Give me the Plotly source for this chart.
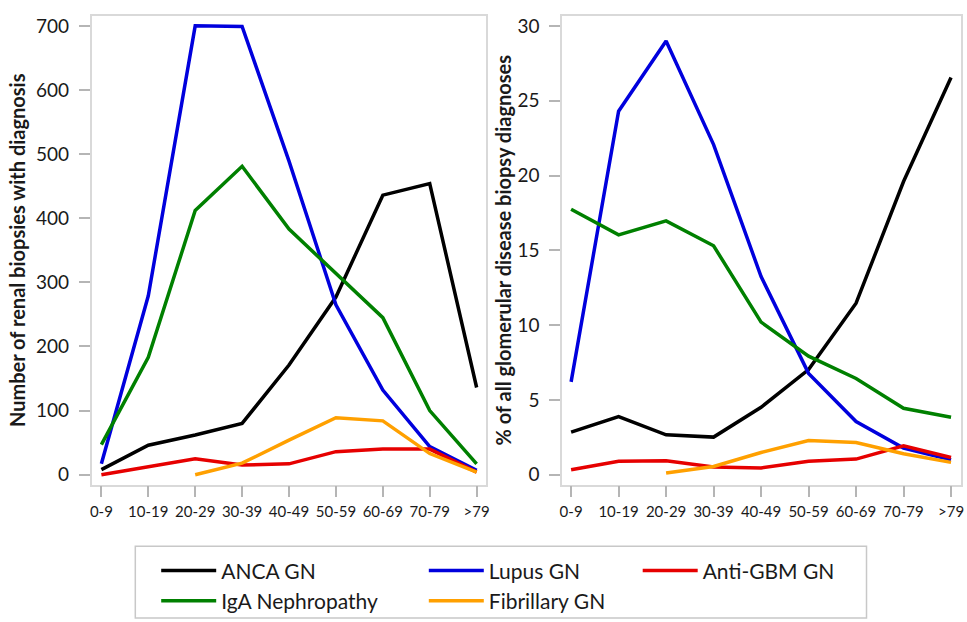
import plotly.graph_objects as go

age_groups = ["0-9", "10-19", "20-29", "30-39", "40-49", "50-59", "60-69", "70-79", ">79"]

# Left panel: number of renal biopsies with diagnosis
anca_n = [8, 46, 62, 80, 171, 277, 436, 454, 136]
lupus_n = [17, 279, 700, 699, 489, 265, 132, 44, 7]
iga_n = [47, 183, 412, 481, 383, 314, 245, 100, 17]
fibrillary_n = [None, None, 0, 18, 54, 89, 84, 33, 4]
antigbm_n = [0, 13, 25, 15, 17, 36, 40, 40, 4]

# Right panel: % of all glomerular disease biopsy diagnoses
anca_pct = [2.84, 3.88, 2.66, 2.51, 4.5, 7.03, 11.46, 19.6, 26.55]
lupus_pct = [6.2, 24.3, 29.0, 22.07, 13.24, 6.77, 3.55, 1.78, 1.0]
iga_pct = [17.74, 16.03, 16.97, 15.3, 10.2, 7.92, 6.43, 4.44, 3.84]
fibrillary_pct = [None, None, 0.11, 0.55, 1.48, 2.28, 2.15, 1.4, 0.82]
antigbm_pct = [0.33, 0.89, 0.93, 0.51, 0.45, 0.89, 1.04, 1.93, 1.15]

series_names = ["ANCA GN", "Lupus GN", "Anti-GBM GN", "IgA Nephropathy", "Fibrillary GN"]
series_colors = ["#000000", "#0000dd", "#e60000", "#008000", "#ffa000"]
left_values = [anca_n, lupus_n, antigbm_n, iga_n, fibrillary_n]
right_values = [anca_pct, lupus_pct, antigbm_pct, iga_pct, fibrillary_pct]
legend_groups = ["legend", "legend2", "legend3", "legend", "legend2"]

W, H = 967, 622
FONT = "Lato"

fig = go.Figure()
for name, color, lv, rv, lg in zip(series_names, series_colors, left_values, right_values, legend_groups):
    fig.add_trace(go.Scatter(x=age_groups, y=lv, mode="lines", name=name,
                             line=dict(color=color, width=3.5), xaxis="x", yaxis="y",
                             legend=lg, legendgroup=name, showlegend=True))
    fig.add_trace(go.Scatter(x=age_groups, y=rv, mode="lines", name=name,
                             line=dict(color=color, width=3.5), xaxis="x2", yaxis="y2",
                             legend=lg, legendgroup=name, showlegend=False))

def px_x(p):
    return p / W

def px_y(p):
    return 1 - p / H

frame = dict(showline=True, mirror=True, linecolor="#d9d9d9", linewidth=1.5,
             ticks="outside", ticklen=11, tickcolor="#b5b5b5", tickwidth=1.5,
             showgrid=False, zeroline=False)

fig.update_layout(
    width=W, height=H,
    margin=dict(l=0, r=0, t=0, b=0),
    paper_bgcolor="white", plot_bgcolor="white",
    font=dict(family=FONT, color="#1a1a1a"),
    xaxis=dict(domain=[px_x(90), px_x(487)], type="category", range=[-0.21, 8.21],
               tickfont=dict(size=15), ticklabelstandoff=2, anchor="y", **frame),
    yaxis=dict(domain=[px_y(485), px_y(14)], range=[-15.5, 715.5], tickvals=[0, 100, 200, 300, 400, 500, 600, 700],
               tickfont=dict(size=19), ticklabelstandoff=6, anchor="x",
               title=dict(text="<b>Number of renal biopsies with diagnosis</b>", font=dict(size=20), standoff=5),
               **frame),
    xaxis2=dict(domain=[px_x(563), px_x(964)], type="category", range=[-0.19, 8.21],
                tickfont=dict(size=15), ticklabelstandoff=2, anchor="y2", **frame),
    yaxis2=dict(domain=[px_y(485), px_y(14)], range=[-0.67, 30.67], tickvals=[0, 5, 10, 15, 20, 25, 30],
                tickfont=dict(size=19), ticklabelstandoff=6, anchor="x2",
                title=dict(text="<b>% of all glomerular disease biopsy diagnoses</b>", font=dict(size=20), standoff=0),
                **frame),
    showlegend=True,
)

leg_common = dict(orientation="v", xanchor="left", yanchor="top", bgcolor="rgba(0,0,0,0)",
                  font=dict(size=21, family=FONT, color="#1a1a1a"), traceorder="normal",
                  itemwidth=55, tracegroupgap=0, borderwidth=0)
fig.update_layout(
    legend=dict(x=px_x(155), y=px_y(551), **leg_common),
    legend2=dict(x=px_x(424), y=px_y(551), **leg_common),
    legend3=dict(x=px_x(639), y=px_y(551), **leg_common),
)

fig.add_shape(type="rect", xref="paper", yref="paper",
              x0=px_x(134), x1=px_x(869), y0=px_y(619), y1=px_y(547),
              line=dict(color="#c8c8c8", width=1.5), fillcolor="rgba(0,0,0,0)", layer="below")

fig.write_html("out.html", config={"displayModeBar": False},
               post_script="document.body.style.margin='0px';document.body.style.padding='0px';")
